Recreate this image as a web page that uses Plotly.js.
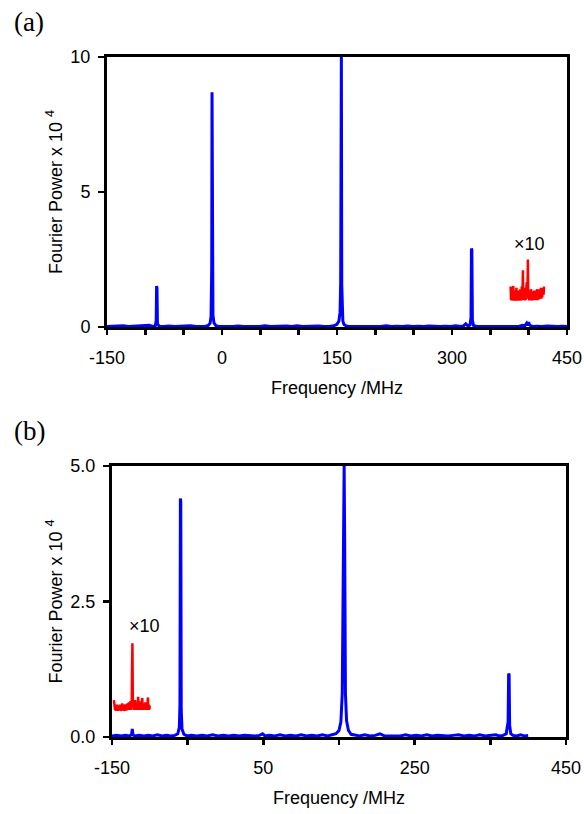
<!DOCTYPE html>
<html>
<head>
<meta charset="utf-8">
<script src="https://cdn.plot.ly/plotly-3.0.1.min.js"></script>
<style>html,body{margin:0;padding:0;background:#fff;}#chart{width:584px;height:814px;}</style>
</head>
<body>
<div id="chart"></div>
<script>
// ---- Panel (a): Fourier power spectrum (x 10^4) vs frequency (MHz)
const freqA = [
  -150, -143, -136, -129, -122, -115, -108, -101, -95, -90,
  -87, -85.8, -85.3, -84.8, -84.2, -82, -76, -69, -62, -55,
  -48, -41, -34, -28, -22, -18, -15.5, -14.3, -13.4, -13.0,
  -12.6, -11.8, -10.5, -8, -4, 2, 8, 14, 21, 28,
  35, 42, 49, 56, 63, 70, 77, 84, 91, 98,
  105, 112, 119, 126, 133, 140, 146, 150, 152.5, 154,
  154.8, 155.3, 155.7, 156.2, 156.8, 157.6, 159, 162, 166, 172,
  179, 186, 193, 200, 207, 214, 221, 228, 235, 242,
  249, 256, 263, 270, 277, 284, 291, 298, 305, 311,
  315, 318, 321, 323.5, 324.8, 325.4, 325.9, 326.6, 328, 332,
  339, 346, 353, 360, 367, 374, 381, 387, 392, 395,
  397.5, 399, 400, 401, 403, 406, 411, 417, 424, 431,
  438, 444, 450
];
const powerA = [
  0.02, 0.03, 0.02, 0.05, 0.02, 0.03, 0.02, 0.03, 0.06, 0.02,
  0.04, 0.25, 1.52, 1.45, 0.12, 0.03, 0.02, 0.04, 0.02, 0.03,
  0.02, 0.05, 0.02, 0.03, 0.02, 0.06, 0.14, 0.4, 2.2, 8.69,
  3.1, 0.45, 0.15, 0.05, 0.02, 0.03, 0.02, 0.02, 0.04, 0.02,
  0.03, 0.02, 0.02, 0.05, 0.02, 0.03, 0.02, 0.04, 0.02, 0.05,
  0.02, 0.03, 0.02, 0.04, 0.02, 0.02, 0.05, 0.1, 0.22, 0.55,
  1.63, 10.0, 10.0, 1.6, 0.5, 0.22, 0.1, 0.04, 0.02, 0.02,
  0.03, 0.02, 0.04, 0.02, 0.02, 0.05, 0.02, 0.03, 0.02, 0.04,
  0.02, 0.03, 0.02, 0.04, 0.02, 0.02, 0.03, 0.02, 0.05, 0.02,
  0.04, 0.12, 0.03, 0.08, 0.35, 2.91, 2.85, 0.25, 0.06, 0.02,
  0.02, 0.03, 0.02, 0.04, 0.02, 0.02, 0.03, 0.02, 0.06, 0.04,
  0.14, 0.06, 0.18, 0.08, 0.04, 0.02, 0.03, 0.02, 0.04, 0.02,
  0.02, 0.03, 0.02
];
// magnified (x10, offset) region of panel (a)
const freqA10 = [
  376.5, 377, 377.5, 378, 378.5, 379, 379.5, 380, 380.5, 381,
  381.5, 382, 382.5, 383, 383.5, 384, 384.5, 385, 385.5, 386,
  386.5, 387, 387.5, 388, 388.5, 389, 389.5, 390, 390.5, 391,
  391.5, 392, 392.5, 393, 393.5, 394, 394.5, 395, 395.5, 396,
  396.5, 397, 397.5, 398, 398.5, 399, 399.5, 400, 400.5, 401,
  401.5, 402, 402.5, 403, 403.5, 404, 404.5, 405, 405.5, 406,
  406.5, 407, 407.5, 408, 408.5, 409, 409.5, 410, 410.5, 411,
  411.5, 412, 412.5, 413, 413.5, 414, 414.5, 415, 415.5, 416,
  416.5, 417, 417.5, 418, 418.5, 419, 419.5, 420
];
const powerA10 = [
  1.5, 1.0, 1.45, 0.98, 1.2, 1.0, 1.3, 1.52, 0.98, 1.25,
  1.0, 1.35, 1.02, 1.2, 0.97, 1.45, 1.0, 1.3, 1.02, 1.15,
  0.98, 1.35, 1.0, 1.25, 0.98, 1.4, 1.02, 1.3, 0.98, 1.5,
  1.05, 1.3, 2.1, 1.0, 1.35, 1.02, 1.25, 0.98, 1.45, 1.0,
  1.3, 1.05, 1.65, 1.1, 1.4, 2.5, 1.05, 1.35, 0.98, 1.3,
  1.0, 1.25, 0.98, 1.4, 1.02, 1.2, 0.98, 1.3, 1.0, 1.25,
  1.02, 1.35, 1.0, 1.2, 1.05, 1.35, 1.0, 1.3, 1.05, 1.4,
  1.0, 1.3, 1.05, 1.35, 1.02, 1.4, 1.05, 1.3, 1.1, 1.45,
  1.05, 1.35, 1.1, 1.4, 1.15, 1.45, 1.2, 1.5
];

// ---- Panel (b)
const freqB = [
  -150, -144, -138, -132, -127, -124.2, -123.2, -122.3, -120, -114,
  -108, -102, -96, -90, -84, -78, -72, -67, -63, -61,
  -60.2, -59.6, -59.1, -58.5, -57.5, -55, -51, -45, -38, -31,
  -24, -17, -10, -3, 4, 11, 18, 25, 32, 39,
  45, 49, 52, 58, 65, 72, 79, 86, 93, 100,
  107, 114, 121, 128, 135, 141, 146, 150, 152.5, 154.3,
  155.4, 156.1, 156.8, 157.5, 158.5, 160, 162.5, 166, 171, 177,
  184, 191, 198, 204, 210, 217, 224, 231, 238, 245,
  252, 259, 266, 273, 280, 287, 294, 301, 308, 315,
  322, 329, 336, 343, 350, 357, 362, 367, 371, 373.5,
  374.2, 374.8, 375.5, 377, 380, 385, 390, 395, 400
];
const powerB = [
  0.02, 0.03, 0.02, 0.03, 0.02, 0.04, 0.15, 0.04, 0.02, 0.03,
  0.02, 0.03, 0.02, 0.04, 0.02, 0.03, 0.02, 0.03, 0.06, 0.18,
  0.6, 4.4, 4.35, 0.5, 0.15, 0.05, 0.02, 0.03, 0.02, 0.03,
  0.02, 0.04, 0.02, 0.03, 0.02, 0.03, 0.02, 0.03, 0.02, 0.02,
  0.03, 0.06, 0.02, 0.03, 0.02, 0.04, 0.02, 0.03, 0.02, 0.04,
  0.02, 0.03, 0.02, 0.04, 0.02, 0.04, 0.06, 0.12, 0.28, 0.8,
  3.6, 5.0, 5.0, 3.6, 0.8, 0.3, 0.12, 0.05, 0.03, 0.02,
  0.04, 0.02, 0.03, 0.06, 0.02, 0.02, 0.03, 0.02, 0.04, 0.02,
  0.03, 0.02, 0.04, 0.02, 0.03, 0.02, 0.02, 0.03, 0.04, 0.02,
  0.03, 0.02, 0.04, 0.02, 0.03, 0.04, 0.02, 0.03, 0.06, 0.28,
  1.17, 1.15, 0.22, 0.06, 0.03, 0.02, 0.04, 0.02, 0.03
];
const freqB10 = [
  -147.5, -147, -146.5, -146, -145.5, -145, -144.5, -144, -143.5, -143,
  -142.5, -142, -141.5, -141, -140.5, -140, -139.5, -139, -138.5, -138,
  -137.5, -137, -136.5, -136, -135.5, -135, -134.5, -134, -133.5, -133,
  -132.5, -132, -131.5, -131, -130.5, -130, -129.5, -129, -128.5, -128,
  -127.5, -127, -126.5, -126, -125.5, -125, -124.5, -124, -123.5, -123,
  -122.5, -122, -121.5, -121, -120.5, -120, -119.5, -119, -118.5, -118,
  -117.5, -117, -116.5, -116, -115.5, -115, -114.5, -114, -113.5, -113,
  -112.5, -112, -111.5, -111, -110.5, -110, -109.5, -109, -108.5, -108,
  -107.5, -107, -106.5, -106, -105.5, -105, -104.5, -104, -103.5, -103,
  -102.5, -102, -101.5, -101, -100.5, -100
];
const powerB10 = [
  0.68, 0.6, 0.66, 0.5, 0.6, 0.48, 0.57, 0.5, 0.6, 0.49,
  0.55, 0.48, 0.58, 0.5, 0.56, 0.49, 0.6, 0.5, 0.55, 0.48,
  0.58, 0.5, 0.62, 0.49, 0.56, 0.5, 0.6, 0.48, 0.57, 0.5,
  0.6, 0.52, 0.58, 0.49, 0.6, 0.5, 0.62, 0.5, 0.58, 0.52,
  0.64, 0.5, 0.6, 0.52, 0.66, 0.5, 0.62, 0.55, 1.2, 1.73,
  0.7, 0.52, 0.65, 0.5, 0.62, 0.5, 0.68, 0.52, 0.6, 0.5,
  0.62, 0.52, 0.58, 0.5, 0.74, 0.55, 0.5, 0.62, 0.5, 0.6,
  0.52, 0.66, 0.5, 0.6, 0.52, 0.72, 0.5, 0.6, 0.52, 0.62,
  0.5, 0.58, 0.52, 0.64, 0.5, 0.6, 0.52, 0.62, 0.5, 0.58,
  0.73, 0.52, 0.6, 0.5, 0.58, 0.52
];

const panelLabels = ["(a)", "(b)"];
const xTitle = "Frequency /MHz";
const yTitle = "Fourier Power x 10 <sup>4</sup>";
const magLabel = "\u00d710";
const xTickValsA = [-150, 0, 150, 300, 450];
const xTickTextA = ["-150", "0", "150", "300", "450"];
const xTickValsB = [-150, 50, 250, 450];
const xTickTextB = ["-150", "50", "250", "450"];
const yTicksA = [0, 5, 10];
const yTicksB = [0, 2.5, 5];

const W = 584, H = 814;
const BLUE = "#0000ff", RED = "#ff0000";
const sans = "Liberation Sans, Arial, sans-serif";
const tickFont = {family: sans, size: 18, color: "#000"};
const titleFont = {family: sans, size: 18, color: "#000"};

const traces = [
  {x: freqA, y: powerA, xaxis: "x", yaxis: "y", type: "scatter", mode: "lines",
   line: {color: BLUE, width: 3}, cliponaxis: false, hoverinfo: "skip"},
  {x: freqA10, y: powerA10, xaxis: "x", yaxis: "y", type: "scatter", mode: "lines",
   line: {color: RED, width: 2.5}, hoverinfo: "skip"},
  {x: freqB, y: powerB, xaxis: "x2", yaxis: "y2", type: "scatter", mode: "lines",
   line: {color: BLUE, width: 3}, cliponaxis: false, hoverinfo: "skip"},
  {x: freqB10, y: powerB10, xaxis: "x2", yaxis: "y2", type: "scatter", mode: "lines",
   line: {color: RED, width: 2.5}, hoverinfo: "skip"}
];

function axisBase() {
  return {
    showgrid: false, zeroline: false, showline: true, linecolor: "#000", linewidth: 3,
    mirror: true, ticks: "outside", tickcolor: "#000", tickwidth: 2.5,
    tickfont: tickFont, layer: "below traces", automargin: false
  };
}

const layout = {
  width: W, height: H,
  margin: {l: 0, r: 0, t: 0, b: 0},
  paper_bgcolor: "#fff", plot_bgcolor: "#fff",
  showlegend: false,
  xaxis: Object.assign(axisBase(), {
    domain: [107 / W, 567 / W], anchor: "y",
    range: [-150, 450], tickmode: "array", tickvals: xTickValsA, ticktext: xTickTextA, ticklen: 5,
    minor: {tickmode: "linear", dtick: 50, tick0: -150, ticks: "outside", ticklen: 5, tickwidth: 2.5, tickcolor: "#000"},
    ticklabelstandoff: 7,
    title: {text: xTitle, font: titleFont, standoff: 15}
  }),
  yaxis: Object.assign(axisBase(), {
    domain: [1 - 327 / H, 1 - 57 / H], anchor: "x",
    range: [0, 10], tickmode: "array", tickvals: yTicksA, ticklen: 6,
    ticklabelstandoff: 4,
    title: {text: yTitle, font: titleFont, standoff: 4}
  }),
  xaxis2: Object.assign(axisBase(), {
    domain: [112 / W, 566 / W], anchor: "y2",
    range: [-150, 450], tickmode: "array", tickvals: xTickValsB, ticktext: xTickTextB, ticklen: 5,
    minor: {tickmode: "linear", dtick: 100, tick0: -150, ticks: "outside", ticklen: 5, tickwidth: 2.5, tickcolor: "#000"},
    ticklabelstandoff: 7,
    title: {text: xTitle, font: titleFont, standoff: 15}
  }),
  yaxis2: Object.assign(axisBase(), {
    domain: [1 - 737 / H, 1 - 466 / H], anchor: "x2",
    range: [0, 5], tickmode: "array", tickvals: yTicksB, tickformat: ".1f", ticklen: 6,
    ticklabelstandoff: 4,
    title: {text: yTitle, font: titleFont, standoff: 4}
  }),
  annotations: [
    {text: panelLabels[0], xref: "paper", yref: "paper", x: 12 / W, y: 1 - 22 / H,
     xanchor: "left", yanchor: "middle", showarrow: false,
     font: {family: "Liberation Serif, Times New Roman, serif", size: 27, color: "#000"}},
    {text: panelLabels[1], xref: "paper", yref: "paper", x: 12 / W, y: 1 - 431 / H,
     xanchor: "left", yanchor: "middle", showarrow: false,
     font: {family: "Liberation Serif, Times New Roman, serif", size: 27, color: "#000"}},
    {text: magLabel, xref: "x", yref: "y", x: 400.8, y: 3.07, showarrow: false,
     xanchor: "center", yanchor: "middle", font: titleFont},
    {text: magLabel, xref: "x2", yref: "y2", x: -106.8, y: 2.05, showarrow: false,
     xanchor: "center", yanchor: "middle", font: titleFont}
  ]
};

Plotly.newPlot("chart", traces, layout, {staticPlot: true, displayModeBar: false});
</script>
</body>
</html>
